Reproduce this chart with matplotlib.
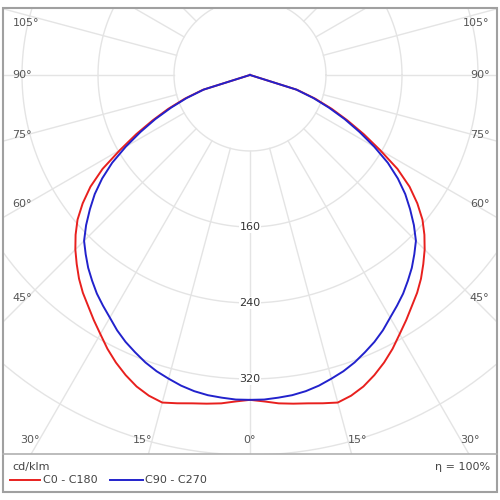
import matplotlib.pyplot as plt
import numpy as np
from matplotlib.patches import Rectangle
from matplotlib.lines import Line2D

# luminous intensity (cd/klm) vs gamma angle (deg from nadir), symmetric curves
ANGLES = [0, 2.5, 5, 7.5, 10, 12.5, 15, 17.5, 20, 22.5, 25, 27.5, 30, 32.5, 35, 37.5,
          40, 42.5, 45, 47.5, 50, 52.5, 55, 57.5, 60, 62.5, 65, 67.5, 70, 72.5, 75, 80, 85, 90]
C0_C180 = [342, 344, 347, 349, 351, 354, 357, 354, 349, 342, 334, 325, 315, 306, 297, 289,
           280, 270, 260, 249, 237, 222, 205, 184, 158, 135, 113, 93, 73, 52, 0, 0, 0, 0]
C90_C270 = [342, 342, 341, 340, 338, 335, 331, 327, 322, 316, 310, 303, 295, 288, 281, 273,
            265, 256, 247, 234, 220, 206, 190, 172, 151, 130, 110, 90, 71, 51, 0, 0, 0, 0]

RINGS = [80, 160, 240, 320, 400, 480, 560]
RING_LABELS = [160, 240, 320]
SIDE_ANGLES = [105, 90, 75, 60, 45]
BOTTOM_ANGLES = [-30, -15, 0, 15, 30]

GRID = "#e4e4e4"
TXT = "#555555"
RED = "#e8201e"
BLUE = "#2222cc"
FS = 8

W, H = 500, 500
def fx(px): return px / W
def fy(py): return 1 - py / H

fig = plt.figure(figsize=(5, 5), dpi=100)
ax = fig.add_axes([fx(3), fy(454), fx(497) - fx(3), fy(8) - fy(454)])
ax.set_xlim(-260, 260)
ax.set_ylim(-399, 70.5)
ax.axis("off")

def to_xy(gamma_deg, r):
    g = np.deg2rad(np.asarray(gamma_deg, dtype=float))
    r = np.asarray(r, dtype=float)
    return r * np.sin(g), -r * np.cos(g)

# grid: full circles and spokes from the first ring outwards
t = np.linspace(0, 2 * np.pi, 400)
for r in RINGS:
    ax.plot(r * np.cos(t), r * np.sin(t), color=GRID, lw=1, zorder=1)
for g in range(0, 360, 15):
    x, y = to_xy([g, g], [RINGS[0], 700])
    ax.plot(x, y, color=GRID, lw=1, zorder=1)

# curves (mirror the half-plane data)
ang = np.array(ANGLES)
full_ang = np.concatenate([-ang[::-1], ang[1:]])
for vals, col in [(C0_C180, RED), (C90_C270, BLUE)]:
    v = np.array(vals)
    full_v = np.concatenate([v[::-1], v[1:]])
    x, y = to_xy(full_ang, full_v)
    ax.plot(x, y, color=col, lw=1.4, zorder=3, solid_joinstyle="round")

# radial value labels
for r in RING_LABELS:
    ax.text(0, -r, str(r), ha="center", va="center", fontsize=FS, color="#333333",
            zorder=4, bbox=dict(facecolor="white", edgecolor="none", pad=0.6))

# angle labels on the sides
edge_x = 235
for g in SIDE_ANGLES:
    y = -edge_x / np.tan(np.deg2rad(g))
    y = min(y, 55)
    ax.text(-250, y, f"{g}°", ha="left", va="center", fontsize=FS, color=TXT)
    ax.text(252, y, f"{g}°", ha="right", va="center", fontsize=FS, color=TXT)

# angle labels along the bottom
bottom_y = -384
for g in BOTTOM_ANGLES:
    x = -bottom_y * np.tan(np.deg2rad(g))
    ha = "center" if g == 0 else ("right" if g < 0 else "left")
    ax.text(x, bottom_y, f"{abs(g)}°", ha=ha, va="center", fontsize=FS, color=TXT)

# legend strip
lax = fig.add_axes([fx(3), fy(492), fx(497) - fx(3), fy(454) - fy(492)])
lax.set_xlim(3, 497)
lax.set_ylim(492, 454)
lax.axis("off")
lax.text(12, 467, "cd/klm", ha="left", va="center", fontsize=FS, color="#444444")
lax.plot([10, 40], [480, 480], color=RED, lw=1.4)
lax.text(43, 480, "C0 - C180", ha="left", va="center", fontsize=FS, color="#444444")
lax.plot([110, 143], [480, 480], color=BLUE, lw=1.4)
lax.text(145, 480, "C90 - C270", ha="left", va="center", fontsize=FS, color="#444444")
lax.text(490, 467, "η = 100%", ha="right", va="center", fontsize=FS, color="#444444")

# frame and separator
fig.add_artist(Rectangle((fx(3), fy(492)), fx(497) - fx(3), fy(8) - fy(492),
                         transform=fig.transFigure, fill=False, edgecolor="#a0a0a0", lw=1.5))
fig.add_artist(Line2D([fx(3), fx(497)], [fy(454), fy(454)], transform=fig.transFigure,
                      color="#b0b0b0", lw=1.2))

fig.savefig("out.png", dpi=100)
